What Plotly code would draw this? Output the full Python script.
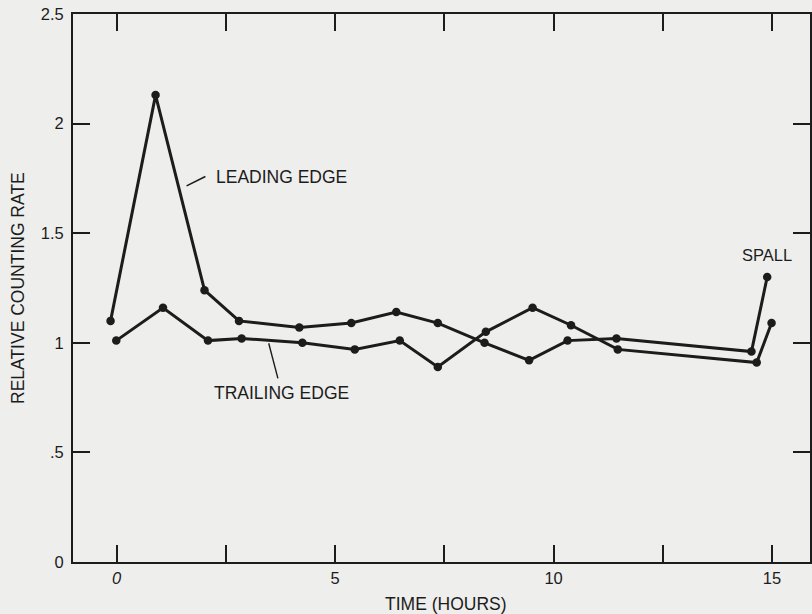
import plotly.graph_objects as go

# ---- data ----
lead_t = [-0.14, 0.89, 2.01, 2.80, 4.18, 5.37, 6.40, 7.35, 8.42, 9.44, 10.32, 11.44, 14.53, 14.89]
lead_v = [1.10, 2.13, 1.24, 1.10, 1.07, 1.09, 1.14, 1.09, 1.00, 0.92, 1.01, 1.02, 0.96, 1.30]
trail_t = [-0.01, 1.06, 2.09, 2.86, 4.25, 5.45, 6.48, 7.35, 8.45, 9.52, 10.40, 11.47, 14.65, 14.99]
trail_v = [1.01, 1.16, 1.01, 1.02, 1.00, 0.97, 1.01, 0.89, 1.05, 1.16, 1.08, 0.97, 0.91, 1.09]

x_tickvals = [0, 2.5, 5, 7.5, 10, 12.5, 15]
x_ticktext = ["<i>0</i>", "", "5", "", "10", "", "15"]
y_tickvals = [0, 0.5, 1, 1.5, 2, 2.5]
y_ticktext = ["0", ".5", "1", "1.5", "2", "2.5"]

INK = "#1c1c1c"
BG = "#eeeeec"
FONT = "Liberation Sans, Arial, sans-serif"

fig = go.Figure()
for t, v, name in [(lead_t, lead_v, "LEADING EDGE"), (trail_t, trail_v, "TRAILING EDGE")]:
    fig.add_trace(go.Scatter(
        x=t, y=v, mode="lines+markers", name=name,
        line=dict(color=INK, width=3),
        marker=dict(color=INK, size=8.5),
        showlegend=False,
    ))

# leader lines for labels
fig.add_shape(type="line", x0=1.60, y0=1.716, x1=2.03, y1=1.759,
              line=dict(color=INK, width=1.6))
fig.add_shape(type="line", x0=3.48, y0=0.998, x1=3.69, y1=0.838,
              line=dict(color=INK, width=1.4))

fig.add_annotation(x=2.22, y=1.757, text="LEADING EDGE", showarrow=False,
                   xanchor="left", yanchor="middle",
                   font=dict(size=17.5, color=INK, family=FONT))
fig.add_annotation(x=2.18, y=0.771, text="TRAILING EDGE", showarrow=False,
                   xanchor="left", yanchor="middle",
                   font=dict(size=17.5, color=INK, family=FONT))
fig.add_annotation(x=14.89, y=1.40, text="SPALL", showarrow=False,
                   xanchor="center", yanchor="middle",
                   font=dict(size=16.5, color=INK, family=FONT))

# axis titles
fig.add_annotation(xref="paper", yref="paper", x=0, y=0.5, xshift=-55,
                   text="RELATIVE COUNTING RATE", textangle=-90, showarrow=False,
                   xanchor="center", yanchor="middle",
                   font=dict(size=17.5, color=INK, family=FONT))
fig.add_annotation(xref="paper", yref="paper", x=0.5066, y=0, yshift=-42,
                   text="TIME (HOURS)", showarrow=False,
                   xanchor="center", yanchor="middle",
                   font=dict(size=17.5, color=INK, family=FONT))

fig.update_layout(
    width=812, height=614,
    margin=dict(l=73, r=0, t=14, b=52),
    paper_bgcolor=BG, plot_bgcolor=BG,
    font=dict(family=FONT, color=INK, size=16),
    xaxis=dict(
        range=[-1.0, 15.87], showgrid=False, zeroline=False,
        showline=True, linecolor=INK, linewidth=2, mirror="ticks",
        ticks="inside", ticklen=17, tickwidth=2, tickcolor=INK,
        tickvals=x_tickvals, ticktext=x_ticktext, ticklabelstandoff=0,
        tickfont=dict(size=16.5, color=INK),
    ),
    yaxis=dict(
        range=[0, 2.5], showgrid=False, zeroline=False,
        showline=True, linecolor=INK, linewidth=2, mirror="ticks",
        ticks="inside", ticklen=17, tickwidth=2, tickcolor=INK,
        tickvals=y_tickvals, ticktext=y_ticktext, ticklabelstandoff=4,
        tickfont=dict(size=16.5, color=INK),
    ),
)

fig.write_html(
    "out.html",
    config={"displayModeBar": False},
    post_script="document.body.style.margin='0';document.body.style.background='%s';" % BG,
)
